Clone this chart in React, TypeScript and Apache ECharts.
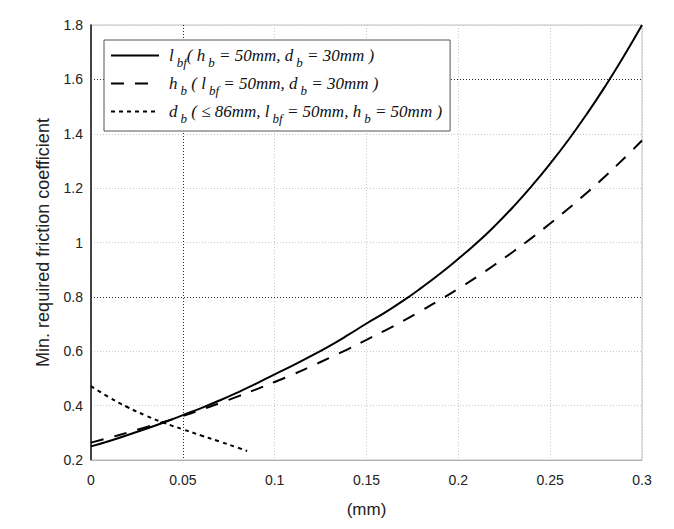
import React, { useEffect, useRef } from "react";
import * as echarts from "echarts";

// x positions (mm)
const xMain = [
  0, 0.01, 0.02, 0.03, 0.04, 0.05, 0.06, 0.07, 0.08, 0.09, 0.1,
  0.11, 0.12, 0.13, 0.14, 0.15, 0.16, 0.17, 0.18, 0.19, 0.2,
  0.21, 0.22, 0.23, 0.24, 0.25, 0.26, 0.27, 0.28, 0.29, 0.3,
];
// l_bf curve (solid)
const yLbf = [
  0.25, 0.27, 0.292, 0.315, 0.339, 0.365, 0.391, 0.419, 0.449, 0.481, 0.515,
  0.548, 0.583, 0.62, 0.66, 0.702, 0.742, 0.786, 0.834, 0.885, 0.94,
  0.998, 1.062, 1.132, 1.208, 1.29, 1.378, 1.473, 1.575, 1.684, 1.8,
];
// h_b curve (dashed)
const yHb = [
  0.264, 0.282, 0.301, 0.321, 0.341, 0.362, 0.385, 0.409, 0.434, 0.46, 0.487,
  0.515, 0.545, 0.576, 0.608, 0.642, 0.676, 0.712, 0.75, 0.789, 0.83,
  0.873, 0.919, 0.967, 1.017, 1.07, 1.125, 1.183, 1.244, 1.308, 1.375,
];
// d_b curve (dotted, up to 86 mm)
const xDb = [0, 0.01, 0.02, 0.03, 0.04, 0.05, 0.06, 0.07, 0.08, 0.085];
const yDb = [0.472, 0.43, 0.394, 0.363, 0.336, 0.313, 0.29, 0.268, 0.245, 0.233];

const seriesNames = [
  "lbf( hb = 50mm, db = 30mm )",
  "hb ( lbf = 50mm, db = 30mm )",
  "db ( ≤ 86mm, lbf = 50mm, hb = 50mm )",
];
const legendRich: Record<string, string> = {
  [seriesNames[0]]: "{n|l}{s|bf}{n|( h}{s|b}{n| = 50mm, d}{s|b}{n| = 30mm )}",
  [seriesNames[1]]: "{n|h}{s|b}{n| ( l}{s|bf}{n| = 50mm, d}{s|b}{n| = 30mm )}",
  [seriesNames[2]]: "{n|d}{s|b}{n| ( ≤ 86mm, l}{s|bf}{n| = 50mm, h}{s|b}{n| = 50mm )}",
};

const zip = (xs: number[], ys: number[]) => xs.map((x, i) => [x, ys[i]]);

export default function App() {
  const ref = useRef<HTMLDivElement>(null);
  useEffect(() => {
    document.body.style.margin = "0";
    const chart = echarts.init(ref.current!, null, { renderer: "svg" });
    const light = "#c8c8c8";
    const dark = "#2a2a2a";
    chart.setOption({
      animation: false,
      backgroundColor: "#fff",
      grid: {
        left: 91,
        right: 32,
        top: 25,
        bottom: 69,
        show: true,
        borderColor: "#c0c0c0",
        borderWidth: 1,
      },
      legend: {
        orient: "vertical",
        left: 104,
        top: 40,
        backgroundColor: "#fff",
        borderColor: "#555",
        borderWidth: 1,
        borderRadius: 0,
        padding: [7, 8, 6, 6],
        itemGap: 6,
        itemWidth: 48,
        itemHeight: 14,
        itemStyle: { opacity: 0, borderWidth: 0 },
        data: seriesNames,
        formatter: (name: string) => legendRich[name] || name,
        textStyle: {
          padding: [0, 0, 0, 5],
          rich: {
            n: {
              fontFamily: "Liberation Serif",
              fontStyle: "italic",
              fontSize: 17,
              color: "#111",
            },
            s: {
              fontFamily: "Liberation Serif",
              fontStyle: "italic",
              fontSize: 13,
              color: "#111",
              padding: [14, 0, 0, 3],
            },
          },
        },
      },
      xAxis: {
        type: "value",
        min: 0,
        max: 0.3,
        interval: 0.05,
        name: "(mm)",
        nameLocation: "middle",
        nameGap: 41,
        nameTextStyle: { fontFamily: "Liberation Sans", fontSize: 17, color: "#222" },
        axisLine: { show: true, lineStyle: { color: "#b0b0b0", width: 1 } },
        axisTick: { show: false },
        axisLabel: {
          margin: 13,
          fontFamily: "Liberation Sans",
          fontSize: 14,
          color: "#222",
        },
        splitLine: {
          show: true,
          lineStyle: {
            type: [1, 2],
            width: 1,
            color: [light, dark, light, light, light, light, light],
          },
        },
      },
      yAxis: {
        type: "value",
        min: 0.2,
        max: 1.8,
        interval: 0.2,
        name: "Min. required friction coefficient",
        nameLocation: "middle",
        nameGap: 39,
        nameTextStyle: { fontFamily: "Liberation Sans", fontSize: 18, color: "#222" },
        axisLine: { show: true, lineStyle: { color: "#111", width: 1.5 } },
        axisTick: { show: false },
        axisLabel: {
          margin: 8,
          fontFamily: "Liberation Sans",
          fontSize: 14,
          color: "#222",
        },
        splitLine: {
          show: true,
          lineStyle: {
            type: [1, 2],
            width: 1,
            color: [light, light, light, dark],
          },
        },
      },
      series: [
        {
          name: seriesNames[0],
          type: "line",
          data: zip(xMain, yLbf),
          smooth: true,
          showSymbol: false,
          symbol: "none",
          lineStyle: { color: "#000", width: 2, type: "solid" },
          itemStyle: { color: "#000" },
        },
        {
          name: seriesNames[1],
          type: "line",
          data: zip(xMain, yHb),
          smooth: true,
          showSymbol: false,
          symbol: "none",
          lineStyle: { color: "#000", width: 2, type: [13, 11] },
          itemStyle: { color: "#000" },
        },
        {
          name: seriesNames[2],
          type: "line",
          data: zip(xDb, yDb),
          smooth: true,
          showSymbol: false,
          symbol: "none",
          lineStyle: { color: "#000", width: 2, type: [4, 4] },
          itemStyle: { color: "#000" },
        },
      ],
    });
    return () => chart.dispose();
  }, []);
  return <div ref={ref} style={{ width: 674, height: 529 }} />;
}
